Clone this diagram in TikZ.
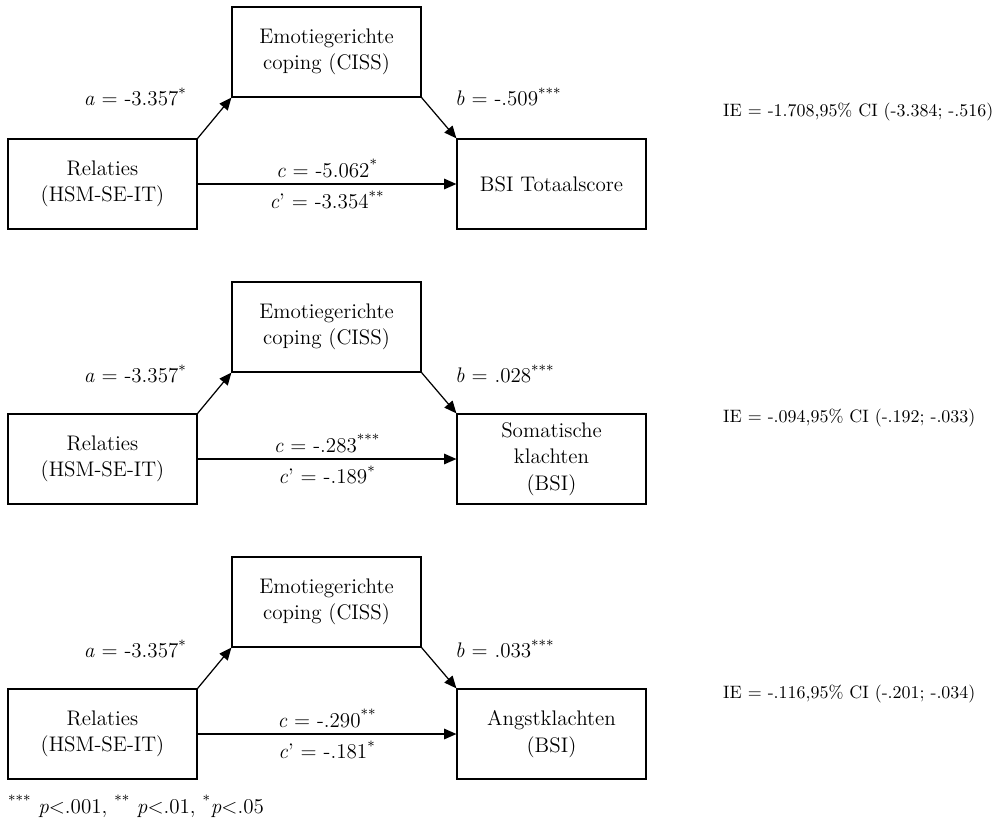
\documentclass[tikz,border=0pt]{standalone}
\usepackage{fontspec}
\usepackage{tikz}
\usetikzlibrary{arrows.meta, positioning}

\begin{document}
\begin{tikzpicture}[x=0.02cm, y=-0.02cm, >={Triangle[length=7pt, width=6pt]},
  box/.style={draw, line width=0.7pt, minimum width=3.78cm, minimum height=1.8cm,
    align=center, font=\fontsize{12}{15}\selectfont},
  lbl/.style={font=\fontsize{12}{15}\selectfont},
  ie/.style={anchor=west, font=\fontsize{10.2}{12}\selectfont},
  path/.style={->, line width=0.7pt}]
  \useasboundingbox (0,0) rectangle (999,824);

  % model 1
  \node[box] (med1) at (326.5,52) {Emotiegerichte\\coping (CISS)};
  \node[box] (rel1) at (102.5,184) {Relaties\\(HSM-SE-IT)};
  \node[box] (out1) at (551.5,184) {BSI Totaalscore};
  \draw[path] (rel1.north east) -- (med1.south west);
  \draw[path] (med1.south east) -- (out1.north west);
  \draw[path] (rel1) -- node[lbl, above] {\textit{c} = -5.062\textsuperscript{*}}
    node[lbl, below] {\textit{c}’ = -3.354\textsuperscript{**}} (out1);
  \node[lbl, anchor=east] (a1) at (193,97) {\textit{a} = -3.357\textsuperscript{*}};
  \node[lbl, anchor=west] (b1) at (449,97) {\textit{b} = -.509\textsuperscript{***}};
  \node[ie] (ie1) at (717,112) {IE = -1.708,95\% CI (-3.384; -.516)};

  % model 2
  \node[box] (med2) at (326.5,327) {Emotiegerichte\\coping (CISS)};
  \node[box] (rel2) at (102.5,459) {Relaties\\(HSM-SE-IT)};
  \node[box] (out2) at (551.5,459) {Somatische\\klachten\\(BSI)};
  \draw[path] (rel2.north east) -- (med2.south west);
  \draw[path] (med2.south east) -- (out2.north west);
  \draw[path] (rel2) -- node[lbl, above] {\textit{c} = -.283\textsuperscript{***}}
    node[lbl, below] {\textit{c}’ = -.189\textsuperscript{*}} (out2);
  \node[lbl, anchor=east] (a2) at (193,374) {\textit{a} = -3.357\textsuperscript{*}};
  \node[lbl, anchor=west] (b2) at (449,374) {\textit{b} = .028\textsuperscript{***}};
  \node[ie] (ie2) at (717,418) {IE = -.094,95\% CI (-.192; -.033)};

  % model 3
  \node[box] (med3) at (326.5,602) {Emotiegerichte\\coping (CISS)};
  \node[box] (rel3) at (102.5,734) {Relaties\\(HSM-SE-IT)};
  \node[box] (out3) at (551.5,734) {Angstklachten\\(BSI)};
  \draw[path] (rel3.north east) -- (med3.south west);
  \draw[path] (med3.south east) -- (out3.north west);
  \draw[path] (rel3) -- node[lbl, above] {\textit{c} = -.290\textsuperscript{**}}
    node[lbl, below] {\textit{c}’ = -.181\textsuperscript{*}} (out3);
  \node[lbl, anchor=east] (a3) at (193,649) {\textit{a} = -3.357\textsuperscript{*}};
  \node[lbl, anchor=west] (b3) at (449,649) {\textit{b} = .033\textsuperscript{***}};
  \node[ie] (ie3) at (717,694) {IE = -.116,95\% CI (-.201; -.034)};

  \node[lbl, anchor=west] (note) at (2,806) {\textsuperscript{***} \textit{p}<.001, \textsuperscript{**} \textit{p}<.01, \textsuperscript{*}\textit{p}<.05};
\end{tikzpicture}
\end{document}
